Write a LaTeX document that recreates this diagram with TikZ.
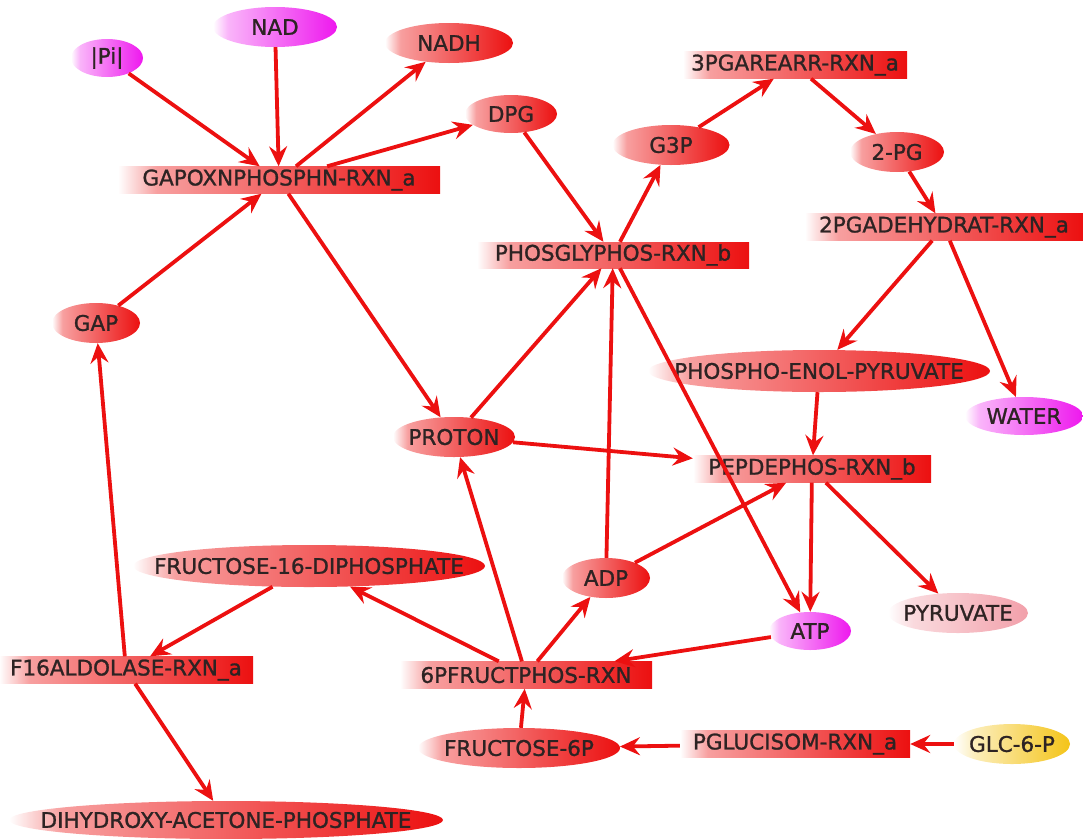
\documentclass[tikz,border=0pt]{standalone}
\usepackage{fontspec}
\setmainfont{DejaVu Sans}[FakeBold=1.2]
\usetikzlibrary{arrows.meta,shapes}
\tikzset {>=Stealth}
\definecolor{rxred}{RGB}{236,16,16}
\definecolor{cofmag}{RGB}{238,24,238}
\definecolor{pyrpink}{RGB}{242,160,170}
\definecolor{glcgold}{RGB}{244,196,24}
\definecolor{lbl}{RGB}{45,35,35}
\pgfdeclarehorizontalshading{redfade}{100bp}{color(0bp)=(white); color(25bp)=(white); color(31bp)=(rxred!40); color(75bp)=(rxred); color(100bp)=(rxred)}
\pgfdeclarehorizontalshading{magfade}{100bp}{color(0bp)=(white); color(25bp)=(white); color(31bp)=(cofmag!32); color(75bp)=(cofmag); color(100bp)=(cofmag)}
\pgfdeclarehorizontalshading{pinkfade}{100bp}{color(0bp)=(white); color(25bp)=(white); color(34bp)=(pyrpink!40); color(75bp)=(pyrpink); color(100bp)=(pyrpink)}
\pgfdeclarehorizontalshading{goldfade}{100bp}{color(0bp)=(white); color(25bp)=(white); color(34bp)=(glcgold!30); color(75bp)=(glcgold); color(100bp)=(glcgold)}
\newcommand{\ctext}[1]{\makebox[0pt]{#1}}

\begin{document}
\begin{tikzpicture}[x=1pt,y=-1pt,font=\fontsize{21.5}{24}\selectfont,
  sz/.style 2 args={minimum width=#1pt,minimum height=#2pt},
  met/.style={ellipse,inner sep=0pt,shading=redfade,text=lbl},
  cof/.style={met,shading=magfade},
  rxn/.style={rectangle,inner sep=0pt,shading=redfade,text=lbl},
  link/.style={-{Stealth[length=20pt,width=18pt,inset=7pt]},draw=rxred,line width=3.8pt}]
\useasboundingbox (0,0) rectangle (1083,838);
% metabolites
\node[cof,sz={72}{38}] (pi) at (107,58) {\ctext{|Pi|}};
\node[cof,sz={124}{40}] (nad) at (275,27) {\ctext{NAD}};
\node[met,sz={128}{40}] (nadh) at (449,43) {\ctext{NADH}};
\node[met,sz={92}{38}] (dpg) at (511,114) {\ctext{DPG}};
\node[met,sz={117}{40}] (g3p) at (671,145) {\ctext{G3P}};
\node[met,sz={94}{40}] (pg2) at (897,152) {\ctext{2-PG}};
\node[met,sz={88}{40}] (gap) at (96,323) {\ctext{GAP}};
\node[met,sz={342}{42}] (pep) at (819,371) {\ctext{PHOSPHO-ENOL-PYRUVATE}};
\node[cof,sz={118}{38}] (water) at (1024,416) {\ctext{WATER}};
\node[met,sz={122}{40}] (proton) at (454,437) {\ctext{PROTON}};
\node[met,sz={352}{42}] (fdp) at (309,566) {\ctext{FRUCTOSE-16-DIPHOSPHATE}};
\node[met,sz={88}{40}] (adp) at (606,578) {\ctext{ADP}};
\node[cof,sz={82}{38}] (atp) at (810,631) {\ctext{ATP}};
\node[met,shading=pinkfade,sz={140}{40}] (pyr) at (958,613) {\ctext{PYRUVATE}};
\node[met,sz={202}{40}] (f6p) at (519,748) {\ctext{FRUCTOSE-6P}};
\node[met,shading=goldfade,sz={116}{40}] (glc) at (1012,744) {\ctext{GLC-6-P}};
\node[met,sz={434}{38}] (dhap) at (226,820) {\ctext{DIHYDROXY-ACETONE-PHOSPHATE}};
% reactions
\node[rxn,sz={322}{27}] (gapox) at (279,180) {\ctext{GAPOXNPHOSPHN-RXN\_a}};
\node[rxn,sz={224}{27}] (pgm) at (795,65) {\ctext{3PGAREARR-RXN\_a}};
\node[rxn,sz={278}{27}] (eno) at (944,227) {\ctext{2PGADEHYDRAT-RXN\_a}};
\node[rxn,sz={272}{26}] (pgk) at (613,255) {\ctext{PHOSGLYPHOS-RXN\_b}};
\node[rxn,sz={238}{27}] (pk) at (812,469) {\ctext{PEPDEPHOS-RXN\_b}};
\node[rxn,sz={254}{27}] (ald) at (126,670) {\ctext{F16ALDOLASE-RXN\_a}};
\node[rxn,sz={252}{27}] (pfk) at (526,675) {\ctext{6PFRUCTPHOS-RXN}};
\node[rxn,sz={230}{27}] (pgi) at (795,744) {\ctext{PGLUCISOM-RXN\_a}};
% links
\draw[link] (pi) -- (gapox);
\draw[link] (nad) -- (gapox);
\draw[link] (gap) -- (gapox);
\draw[link] (gapox) -- (nadh);
\draw[link] (gapox) -- (dpg);
\draw[link] (gapox) -- (proton);
\draw[link] (dpg) -- (pgk);
\draw[link] (proton) -- (pgk);
\draw[link] (adp) -- (pgk);
\draw[link] (pgk) -- (g3p);
\draw[link] (pgk) -- (atp);
\draw[link] (g3p) -- (pgm);
\draw[link] (pgm) -- (pg2);
\draw[link] (pg2) -- (eno);
\draw[link] (eno) -- (pep);
\draw[link] (eno) -- (water);
\draw[link] (pep) -- (pk);
\draw[link] (proton) -- (pk);
\draw[link] (adp) -- (pk);
\draw[link] (pk) -- (atp);
\draw[link] (pk) -- (pyr);
\draw[link] (atp) -- (pfk);
\draw[link] (pfk) -- (adp);
\draw[link] (pfk) -- (proton);
\draw[link] (pfk) -- (fdp);
\draw[link] (f6p) -- (pfk);
\draw[link] (pgi) -- (f6p);
\draw[link] (glc) -- (pgi);
\draw[link] (fdp) -- (ald);
\draw[link] (ald) -- (gap);
\draw[link] (ald) -- (dhap);
\end{tikzpicture}
\end{document}
